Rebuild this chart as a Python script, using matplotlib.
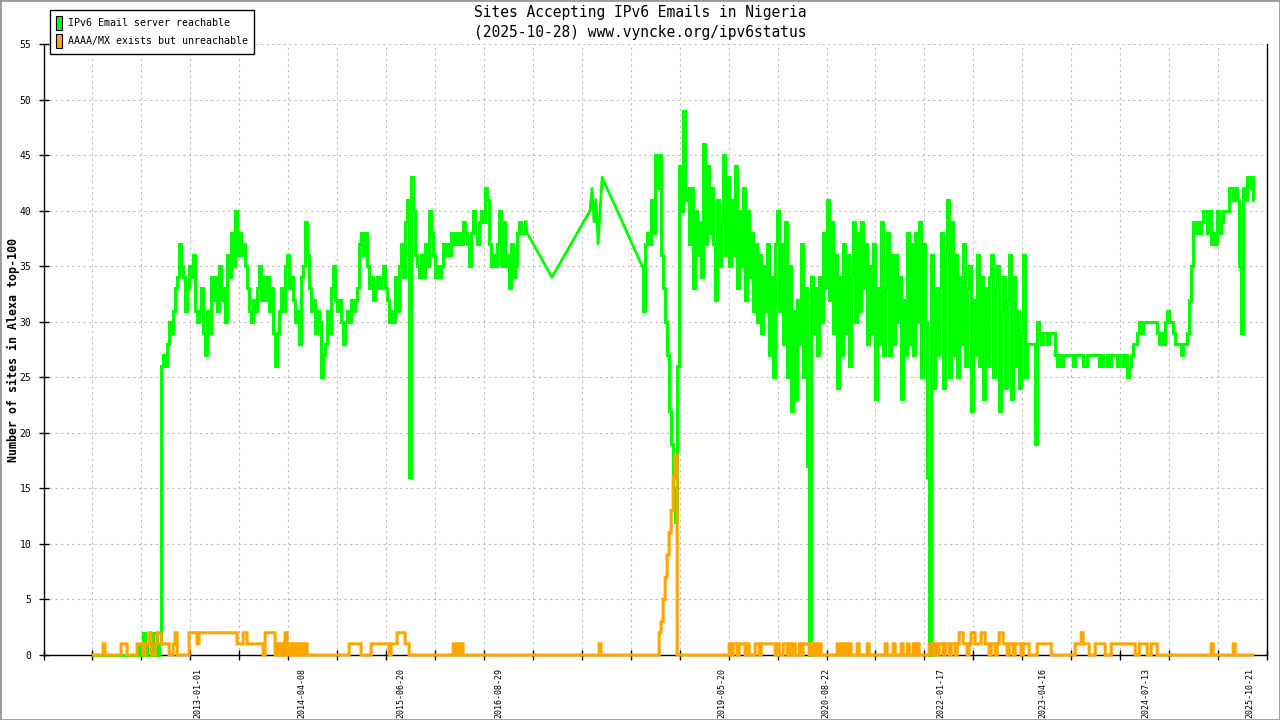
import numpy as np
import pandas as pd
import matplotlib
matplotlib.use('Agg')
import matplotlib.pyplot as plt
import matplotlib.dates as mdates
from matplotlib.patches import Patch, Rectangle

plt.rcParams['font.family'] = ['DejaVu Sans Mono', 'DejaVu Sans']

title_lines = ['Sites Accepting IPv6 Emails in Nigeria',
               '(2025-10-28) www.vyncke.org/ipv6status']
y_label = 'Number of sites in Alexa top-100'
legend_labels = ['IPv6 Email server reachable', 'AAAA/MX exists but unreachable']
date_labels = ['2013-01-01', '2014-04-08', '2015-06-20', '2016-08-29', '2019-05-20',
               '2020-08-22', '2022-01-17', '2023-04-16', '2024-07-13', '2025-10-21']
x_range = ('2011-02-14', '2026-01-04')
y_range = (0, 55)

# samples every ~8.9 days
step_days = 8.89

green_start_a = '2011-09-18'
green_a = (
    [0] * 24 +
    [1, 0, 2, 0, 1, 2, 0, 2, 2, 0, 1] +
    [26, 27, 26, 28, 30, 29, 31, 33, 34, 37,
     35, 34, 31, 33, 35, 34, 36, 31, 30, 31,
     33, 29, 27, 31, 29, 34, 32, 34, 31, 35,
     32, 33, 30, 36, 34, 38, 35, 40, 36, 38,
     36, 37, 35, 33, 31, 30, 32, 31, 33, 35,
     32, 34, 32, 34, 31, 33, 29, 26, 29, 31,
     33, 31, 35, 36, 33, 34, 32, 30, 31, 28] +
    [34, 35, 39, 36, 33, 31, 32, 29, 31, 30,
     25, 27, 28, 31, 29, 33, 35, 32, 31, 32,
     30, 28, 30, 31, 30, 32, 31, 32, 33, 37,
     38, 36, 38, 35, 33, 34, 32, 33, 34, 33,
     34, 35, 33, 32, 30, 31, 30, 34, 31, 35,
     37, 34, 39, 41, 16, 43, 40, 36, 35, 34,
     36, 34, 37, 35, 40, 38, 36, 34, 35, 34,
     35, 37, 36, 37, 36, 38, 37, 38, 37, 38] +
    [37, 39, 38, 37, 35, 38, 40, 38, 37, 39,
     40, 39, 42, 41, 37, 35, 36, 35, 37, 40,
     35, 39, 35, 36, 33, 37, 34, 35, 38, 39,
     38, 38, 39]
)

gap_dates = ['2017-01-02', '2017-04-23', '2017-10-09', '2017-10-18', '2017-10-27',
             '2017-11-05', '2017-11-14', '2017-11-23', '2017-12-02']
gap_values = [38, 34, 40, 42, 39, 41, 37, 40, 43]

green_start_b = '2018-05-29'
green_b = [
    35, 31, 37, 38, 37, 41, 38, 45, 42, 45,
    36, 33, 30, 27, 22, 19, 15, 12, 26, 44,
    40, 49, 41, 42, 37, 42, 33, 40, 36, 39,
    34, 46, 37, 44, 38, 42, 37, 32, 41, 35,
    39, 45, 36, 43, 35, 41, 36, 44, 33, 40,
    35, 42, 32, 40, 34, 38, 31, 37, 30, 36,
    29, 35, 31, 37, 27, 34, 25, 37, 40, 31,
    37, 28, 39, 25, 35, 22, 31, 23, 32, 28,
    37, 25, 33, 17, 0, 34, 29, 33, 27, 34,
    30, 38, 33, 41, 32, 39, 29, 36, 24, 34,
    27, 37, 29, 36, 26, 34, 39, 30, 38, 31,
    39, 33, 37, 28, 35, 29, 37, 23, 33, 28,
    39, 27, 33, 38, 27, 36, 28, 36, 30, 34,
    23, 32, 27, 38, 28, 37, 27, 38, 30, 39,
    25, 37, 30, 16, 0, 36, 24, 33, 27, 33,
    38, 24, 36, 41, 25, 39, 27, 36, 25, 34,
    28, 37, 26, 33, 35, 22, 32, 27, 36, 26,
    34, 23, 33, 26, 34, 36, 25, 33, 35, 22,
    31, 34, 24, 32, 36, 23, 34, 26, 31, 24,
    29, 36, 25, 28, 28, 28, 28, 19, 30, 29,
    28, 29, 29, 28, 29, 29, 29, 27, 26, 27,
    26, 27, 27, 27, 27, 27, 26, 27, 27, 27,
    27, 26, 26, 27, 27, 27, 27, 27, 27, 26,
    27, 26, 26, 27, 26, 27, 27, 27, 26, 27,
    27, 26, 27, 25, 26, 27, 28, 28, 29, 30,
    29, 30, 30, 30, 30, 30, 30, 30, 29, 28,
    29, 28, 30, 31, 30, 30, 29, 28, 28, 28,
    27, 28, 28, 29, 32, 35, 39, 38, 39, 38,
    39, 40, 40, 38, 40, 37, 38, 37, 40, 38,
    39, 40, 40, 40, 42, 42, 41, 42, 41, 35,
    29, 42, 41, 43, 42, 43, 41,
]

orange_start = '2011-09-18'
orange = (
    [0] * 6 + [1] + [0] * 8 + [1, 1, 1] + [0] * 5 +
    [1, 1, 1, 0, 1, 1, 2, 0, 0, 1, 2, 2, 1, 1, 1, 1, 0, 0, 1, 2, 0] +
    [0] * 5 + [2, 2, 2, 2, 1] + [2] * 19 +
    [1, 1, 1, 2, 2, 1, 1] + [1] * 6 + [0] + [2] * 5 +
    [0, 1, 0, 1, 0, 2, 0, 1, 0, 1, 0, 1, 0, 1, 0, 1] +
    [0] * 21 + [1] * 6 + [0] * 5 + [1] * 9 + [0] + [1] * 3 + [2] * 4 + [1, 1] +
    [0] * 22 + [1, 0, 1, 0, 1] + [0] * 68 + [1] + [0] * 28 +
    [0, 2, 3, 5, 7, 9, 11, 13, 16, 18, 0] +
    [0] * 25 +
    [1, 0, 1, 1, 0, 1, 1, 1, 0, 1,
     0, 0, 0, 1, 1, 0, 1, 1, 1, 1,
     1, 1, 1, 0, 1, 0, 0, 1, 1, 0,
     1, 0, 1, 0, 0, 1, 0, 1, 1, 1,
     0, 1, 0, 1, 0, 1, 0, 0, 0] +
    [0] * 5 +
    [1, 0, 1, 0, 1, 0, 1, 0, 0, 0, 1, 0, 0, 0, 0, 1, 0] +
    [0] * 7 + [1, 0] +
    [0, 0, 1, 0, 0, 0, 1, 0, 0, 1, 0, 0, 1, 0, 1, 0, 0] +
    [0, 0, 0, 1, 1, 0, 1, 0, 1, 1, 0, 1, 1, 0, 1, 1, 0, 1] +
    [2, 2, 1, 1, 0, 1, 2, 2, 1, 1, 1, 2, 2, 1] +
    [1, 0, 1, 1, 0, 1, 2, 2, 1, 1, 0, 1, 1, 0, 1, 1, 1, 0] +
    [1, 1, 1, 0] + [0] * 3 + [1] * 7 + [0] * 9 +
    [0, 0, 0, 1, 1, 1, 2, 1, 1, 1, 0, 0, 0] +
    [1] * 5 + [0] * 3 + [1] * 12 + [0] * 2 + [1] * 4 + [0] * 2 + [1] * 3 +
    [0] * 27 + [1] + [0] * 10 + [1] + [0] * 10
)

GREEN = '#00ff00'
ORANGE = '#ffa500'


def sample_dates(start, n):
    return pd.Timestamp(start) + pd.to_timedelta(np.arange(n) * step_days, unit='D')


def plot_chart():
    fig = plt.figure(figsize=(12.8, 7.2), dpi=100)
    ax = fig.add_axes([43.5 / 1280, 1 - 655 / 720, (1267 - 43.5) / 1280, 611 / 720])

    line_kw = dict(lw=2.2, clip_on=False, solid_joinstyle='miter', solid_capstyle='butt')

    # green: blocky daily steps before and after the 2017 gap, straight lines across it
    a_dates = sample_dates(green_start_a, len(green_a))
    b_dates = sample_dates(green_start_b, len(green_b))
    gap_x = [a_dates[-1]] + list(pd.to_datetime(gap_dates)) + [b_dates[0]]
    gap_y = [green_a[-1]] + gap_values + [green_b[0]]
    ax.plot(a_dates, green_a, color=GREEN, drawstyle='steps-mid', zorder=3, **line_kw)
    ax.plot(gap_x, gap_y, color=GREEN, zorder=3, lw=2.0, clip_on=False)
    ax.plot(b_dates, green_b, color=GREEN, drawstyle='steps-mid', zorder=3, **line_kw)

    o_dates = sample_dates(orange_start, len(orange))
    ax.plot(o_dates, orange, color=ORANGE, drawstyle='steps-mid', zorder=4, **line_kw)

    x0 = mdates.date2num(pd.Timestamp(x_range[0]))
    x1 = mdates.date2num(pd.Timestamp(x_range[1]))
    ax.set_xlim(x0, x1)
    ax.set_ylim(*y_range)

    ax.set_xticks(np.linspace(x0, x1, 26))
    ax.set_xticklabels([])
    ax.set_xticks(mdates.date2num(pd.to_datetime(date_labels)), minor=True)
    ax.set_xticklabels(date_labels, minor=True, rotation=90, fontsize=6,
                       ha='center', va='top')
    ax.tick_params(axis='x', which='minor', length=0, pad=9)
    ax.set_yticks(np.arange(0, 56, 5))
    ax.tick_params(axis='y', labelsize=7, pad=5)
    ax.tick_params(which='major', direction='inout', length=7.2, width=1)

    ax.grid(True, which='major', color='#bdbdbd', linestyle=(0, (2, 3)), linewidth=0.8)
    ax.set_axisbelow(True)
    ax.spines['top'].set_visible(False)
    for s in ['left', 'bottom', 'right']:
        ax.spines[s].set_linewidth(1.0)

    fig.text(0.5, 1 - 13 / 720, title_lines[0], ha='center', va='center', fontsize=10.5)
    fig.text(0.5, 1 - 32 / 720, title_lines[1], ha='center', va='center', fontsize=10.5)
    fig.text(13 / 1280, 1 - 350 / 720, y_label, rotation=90, ha='center', va='center',
             fontsize=8.4, fontweight='bold')

    handles = [Patch(facecolor=GREEN, edgecolor='black', lw=0.8, label=legend_labels[0]),
               Patch(facecolor=ORANGE, edgecolor='black', lw=0.8, label=legend_labels[1])]
    leg = fig.legend(handles=handles, loc='upper left',
                     bbox_to_anchor=(50 / 1280, 1 - 10 / 720), borderaxespad=0,
                     fancybox=False, edgecolor='black', framealpha=1,
                     handlelength=0.6, handleheight=1.75, handletextpad=0.55,
                     borderpad=0.6, labelspacing=0.4, fontsize=7.2)
    leg.get_frame().set_linewidth(1.0)

    fig.patches.append(Rectangle((0, 0), 1, 1, transform=fig.transFigure, fill=False,
                                 edgecolor='#999999', lw=2))
    fig.savefig('out.png', dpi=100)


plot_chart()
